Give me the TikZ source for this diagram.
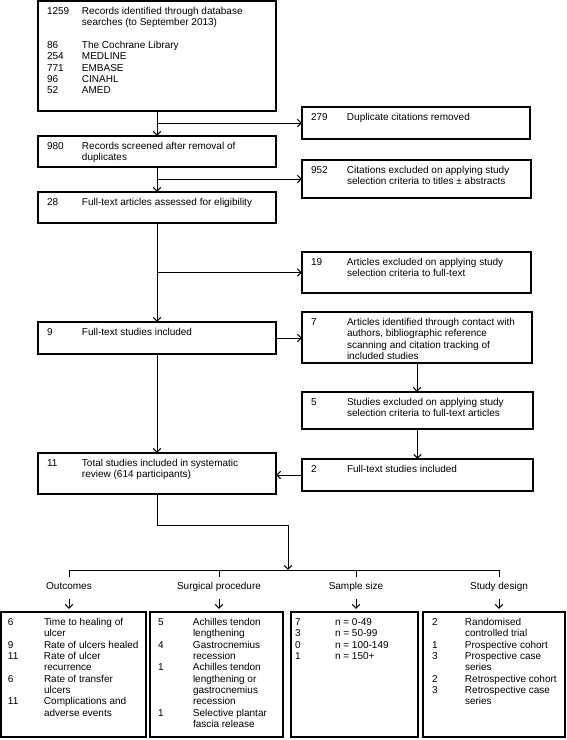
\documentclass[tikz,border=0pt]{standalone}
\usepackage{fontspec}
\setmainfont{Liberation Sans}
\usetikzlibrary{arrows.meta}
\newcommand\tb[2]{\begin{tabular}{@{}p{#1}@{}l@{}}#2\end{tabular}}
\begin{document}
\begin{tikzpicture}[x=1pt, y=-1pt,
  boxst/.style={draw, line width=1.2pt, inner sep=0pt, outer sep=0pt, anchor=north west},
  txt/.style={inner sep=0pt, outer sep=0pt, anchor=north west, font=\fontsize{10}{11.35}\selectfont},
  lab/.style={inner sep=0pt, outer sep=0pt, text height=7pt, text depth=2pt, font=\fontsize{10}{11.35}\selectfont},
  ln/.style={line width=1pt},
  arr/.style={line width=1pt, -{Straight Barb[length=4pt,width=7.5pt]}}]
\useasboundingbox (0,0) rectangle (567,740);
% boxes
\node[boxst, minimum width=238pt, minimum height=110pt] (b1) at (38,1) {};
\node[boxst, minimum width=228pt, minimum height=32pt] (dup) at (302,107) {};
\node[boxst, minimum width=238pt, minimum height=31pt] (b2) at (38,136) {};
\node[boxst, minimum width=229pt, minimum height=38pt] (exc1) at (302,160) {};
\node[boxst, minimum width=238pt, minimum height=31pt] (b3) at (38,192) {};
\node[boxst, minimum width=229pt, minimum height=41pt] (exc2) at (302,252) {};
\node[boxst, minimum width=238pt, minimum height=32pt] (b4) at (38,322) {};
\node[boxst, minimum width=230pt, minimum height=51pt] (add) at (302,312) {};
\node[boxst, minimum width=231pt, minimum height=37pt] (exc3) at (302,392) {};
\node[boxst, minimum width=231pt, minimum height=32pt] (inc2) at (302,459) {};
\node[boxst, minimum width=238pt, minimum height=41pt] (b5) at (38,453) {};
\node[boxst, minimum width=145pt, minimum height=125pt] (o1) at (1,612) {};
\node[boxst, minimum width=133pt, minimum height=125pt] (o2) at (150,612) {};
\node[boxst, minimum width=127pt, minimum height=125pt] (o3) at (291,612) {};
\node[boxst, minimum width=142pt, minimum height=125pt] (o4) at (423,612) {};
% texts
\node[txt] (t1) at ([shift={(9,5.4)}]b1.north west) {\tb{35pt}{1259 & Records identified through database\\ & searches (to September 2013)\\ & \\ 86 & The Cochrane Library\\ 254 & MEDLINE\\ 771 & EMBASE\\ 96 & CINAHL\\ 52 & AMED}};
\node[txt] (tdup) at ([shift={(9,5.4)}]dup.north west) {\tb{36pt}{279 & Duplicate citations removed}};
\node[txt] (t2) at ([shift={(9,5.4)}]b2.north west) {\tb{35pt}{980 & Records screened after removal of\\ & duplicates}};
\node[txt] (texc1) at ([shift={(9,5.4)}]exc1.north west) {\tb{36pt}{952 & Citations excluded on applying study\\ & selection criteria to titles ± abstracts}};
\node[txt] (t3) at ([shift={(9,5.4)}]b3.north west) {\tb{35pt}{28 & Full-text articles assessed for eligibility}};
\node[txt] (texc2) at ([shift={(9,5.4)}]exc2.north west) {\tb{36pt}{19 & Articles excluded on applying study\\ & selection criteria to full-text}};
\node[txt] (t4) at ([shift={(9,5.4)}]b4.north west) {\tb{35pt}{9 & Full-text studies included}};
\node[txt] (tadd) at ([shift={(9,5.4)}]add.north west) {\tb{36pt}{7 & Articles identified through contact with\\ & authors, bibliographic reference\\ & scanning and citation tracking of\\ & included studies}};
\node[txt] (texc3) at ([shift={(9,5.4)}]exc3.north west) {\tb{36pt}{5 & Studies excluded on applying study\\ & selection criteria to full-text articles}};
\node[txt] (tinc2) at ([shift={(9,5.4)}]inc2.north west) {\tb{36pt}{2 & Full-text studies included}};
\node[txt] (t5) at ([shift={(9,5.4)}]b5.north west) {\tb{35pt}{11 & Total studies included in systematic\\ & review (614 participants)}};
\node[txt] (to1) at ([shift={(7,5.4)}]o1.north west) {\tb{36pt}{6 & Time to healing of\\ & ulcer\\ 9 & Rate of ulcers healed\\ 11 & Rate of ulcer\\ & recurrence\\ 6 & Rate of transfer\\ & ulcers\\ 11 & Complications and\\ & adverse events}};
\node[txt] (to2) at ([shift={(8,5.4)}]o2.north west) {\tb{35pt}{5 & Achilles tendon\\ & lengthening\\ 4 & Gastrocnemius\\ & recession\\ 1 & Achilles tendon\\ & lengthening or\\ & gastrocnemius\\ & recession\\ 1 & Selective plantar\\ & fascia release}};
\node[txt] (to3) at ([shift={(4,5.4)}]o3.north west) {\tb{40pt}{7 & n = 0-49\\ 3 & n = 50-99\\ 0 & n = 100-149\\ 1 & n = 150+}};
\node[txt] (to4) at ([shift={(9,5.4)}]o4.north west) {\tb{33pt}{2 & Randomised\\ & controlled trial\\ 1 & Prospective cohort\\ 3 & Prospective case\\ & series\\ 2 & Retrospective cohort\\ 3 & Retrospective case\\ & series}};
% labels
\node[lab] (l1) at (69,587) {Outcomes};
\node[lab] (l2) at (219,587) {Surgical procedure};
\node[lab] (l3) at (356,587) {Sample size};
\node[lab] (l4) at (499,587) {Study design};
\coordinate (mid) at (288,525);
\coordinate (hub) at (288,570);
% connectors
\draw[arr] (b1.south) -- (b2.north);
\draw[arr] (b1.south |- dup.west) -- (dup.west);
\draw[arr] (b2.south) -- (b3.north);
\draw[arr] (b2.south |- exc1.west) -- (exc1.west);
\draw[arr] (b3.south) -- (b4.north);
\draw[arr] (b3.south |- exc2.west) -- (exc2.west);
\draw[arr] (b4.east) -- (b4.east -| add.west);
\draw[arr] (add.south) -- (add.south |- exc3.north);
\draw[arr] (exc3.south) -- (exc3.south |- inc2.north);
\draw[arr] (inc2.west) -- (inc2.west -| b5.east);
\draw[arr] (b4.south) -- (b5.north);
\draw[arr] (b5.south) |- (mid) -- (hub);
\draw[ln] (l1 |- hub) -- (l4 |- hub);
\foreach \n in {l1,l2,l3,l4}{\draw[ln] (\n |- hub) -- ++(0,7);}
\draw[arr, shorten <=7pt, shorten >=3pt] (l1.south) -- (l1.south |- o1.north);
\draw[arr, shorten <=7pt, shorten >=3pt] (l2.south) -- (l2.south |- o2.north);
\draw[arr, shorten <=7pt, shorten >=3pt] (l3.south) -- (l3.south |- o3.north);
\draw[arr, shorten <=7pt, shorten >=3pt] (l4.south) -- (l4.south |- o4.north);
\end{tikzpicture}
\end{document}
